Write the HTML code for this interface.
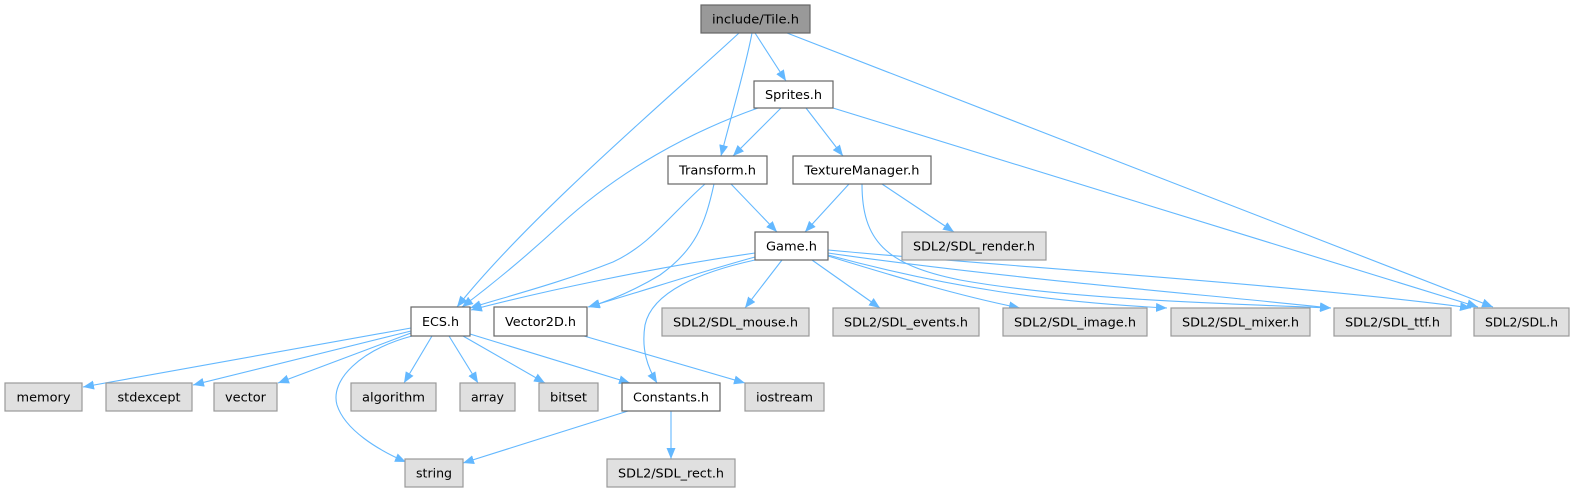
<!DOCTYPE html>
<html>
<head>
<meta charset="utf-8">
<style>
html,body{margin:0;padding:0;background:#fff;}
svg{display:block;}
text{font-family:"DejaVu Sans","Liberation Sans",sans-serif;font-size:12.5px;fill:#000;}
.e{fill:none;stroke:#63b8ff;stroke-width:1.1;}
.w{fill:#fff;stroke:#666;stroke-width:1.2;}
.g{fill:#e0e0e0;stroke:#999;stroke-width:1.2;}
.t{fill:#999;stroke:#666;stroke-width:1.2;}
</style>
</head>
<body>
<svg width="1575" height="492" viewBox="0 0 1575 492" xmlns="http://www.w3.org/2000/svg">
<defs>
<marker id="a" markerWidth="11" markerHeight="9" refX="11" refY="4.5" orient="auto" markerUnits="userSpaceOnUse">
<path d="M0,0 L11,4.5 L0,9 z" fill="#63b8ff"/>
</marker>
</defs>

<!-- edges -->
<g class="e" marker-end="url(#a)">
<!-- Tile -->
<path d="M739,33 C680,88 530,215 457,307"/>
<path d="M752,33 C745,70 730,120 721,156"/>
<path d="M755,33 L786,81"/>
<path d="M787,33 L1493,307"/>
<!-- Sprites -->
<path d="M758,108 C690,132 620,170 560,225 C520,262 482,292 462,307"/>
<path d="M781,108 L733,156"/>
<path d="M806,108 L843,156"/>
<path d="M833,108 L1478,307"/>
<!-- Transform -->
<path d="M705,184 C670,215 650,245 613,262 C560,283 505,297 470,308"/>
<path d="M714,184 C705,225 695,250 660,275 C635,290 612,300 589,307"/>
<path d="M731,184 L777,232"/>
<!-- TextureManager -->
<path d="M849,184 L805,232"/>
<path d="M882,184 L954,232"/>
<path d="M862,184 C862,240 885,265 960,280 C1060,298 1200,303 1331,308"/>
<!-- Game -->
<path d="M755,253 C650,268 540,292 471,310"/>
<path d="M755,257 C700,272 640,292 588,307"/>
<path d="M755,260 C700,272 652,292 645,325 C641,350 648,368 657,383"/>
<path d="M782,260 L745,308"/>
<path d="M812,260 L880,308"/>
<path d="M828,256 C900,278 960,296 1020,308"/>
<path d="M828,255 C950,288 1050,302 1167,308"/>
<path d="M828,253 C1000,278 1200,294 1331,308"/>
<path d="M828,250 C1000,266 1300,285 1471,308"/>
<!-- ECS -->
<path d="M411,328 L83,387"/>
<path d="M411,331 L193,385"/>
<path d="M411,333 L278,383"/>
<path d="M412,336 C360,350 330,380 337,405 C345,430 378,450 406,462"/>
<path d="M432,336 L404,383"/>
<path d="M449,336 L478,383"/>
<path d="M463,336 L545,383"/>
<path d="M470,334 L630,383"/>
<!-- Vector2D -->
<path d="M584,336 L745,383"/>
<!-- Constants -->
<path d="M628,411 L463,463"/>
<path d="M671,411 L671,459"/>
</g>

<!-- nodes -->
<rect class="t" x="701" y="5" width="109" height="28"/>
<text x="755.5" y="23.5" text-anchor="middle" textLength="87" lengthAdjust="spacingAndGlyphs">include/Tile.h</text>

<rect class="w" x="754" y="81" width="79" height="27"/>
<text x="793.5" y="99" text-anchor="middle" textLength="57" lengthAdjust="spacingAndGlyphs">Sprites.h</text>

<rect class="w" x="668" y="156" width="99" height="28"/>
<text x="717.5" y="174.5" text-anchor="middle" textLength="77" lengthAdjust="spacingAndGlyphs">Transform.h</text>

<rect class="w" x="793" y="156" width="138" height="28"/>
<text x="862" y="174.5" text-anchor="middle" textLength="115" lengthAdjust="spacingAndGlyphs">TextureManager.h</text>

<rect class="w" x="755" y="232" width="73" height="28"/>
<text x="791.5" y="250.5" text-anchor="middle" textLength="51" lengthAdjust="spacingAndGlyphs">Game.h</text>

<rect class="g" x="902" y="232" width="144" height="28"/>
<text x="974" y="250.5" text-anchor="middle" textLength="122" lengthAdjust="spacingAndGlyphs">SDL2/SDL_render.h</text>

<rect class="w" x="411" y="307" width="59" height="29"/>
<text x="440.5" y="326" text-anchor="middle" textLength="37" lengthAdjust="spacingAndGlyphs">ECS.h</text>

<rect class="w" x="494" y="307" width="93" height="29"/>
<text x="540.5" y="326" text-anchor="middle" textLength="71" lengthAdjust="spacingAndGlyphs">Vector2D.h</text>

<rect class="g" x="662" y="308" width="147" height="28"/>
<text x="735.5" y="326.5" text-anchor="middle" textLength="125" lengthAdjust="spacingAndGlyphs">SDL2/SDL_mouse.h</text>

<rect class="g" x="833" y="308" width="146" height="28"/>
<text x="906" y="326.5" text-anchor="middle" textLength="124" lengthAdjust="spacingAndGlyphs">SDL2/SDL_events.h</text>

<rect class="g" x="1003" y="308" width="144" height="28"/>
<text x="1075" y="326.5" text-anchor="middle" textLength="122" lengthAdjust="spacingAndGlyphs">SDL2/SDL_image.h</text>

<rect class="g" x="1171" y="308" width="139" height="28"/>
<text x="1240.5" y="326.5" text-anchor="middle" textLength="117" lengthAdjust="spacingAndGlyphs">SDL2/SDL_mixer.h</text>

<rect class="g" x="1334" y="308" width="117" height="28"/>
<text x="1392.5" y="326.5" text-anchor="middle" textLength="95" lengthAdjust="spacingAndGlyphs">SDL2/SDL_ttf.h</text>

<rect class="g" x="1474" y="308" width="95" height="28"/>
<text x="1521.5" y="326.5" text-anchor="middle" textLength="73" lengthAdjust="spacingAndGlyphs">SDL2/SDL.h</text>

<rect class="g" x="5" y="383" width="77" height="28"/>
<text x="43.5" y="401.5" text-anchor="middle" textLength="54" lengthAdjust="spacingAndGlyphs">memory</text>

<rect class="g" x="106" y="383" width="86" height="28"/>
<text x="149" y="401.5" text-anchor="middle" textLength="63" lengthAdjust="spacingAndGlyphs">stdexcept</text>

<rect class="g" x="214" y="383" width="63" height="28"/>
<text x="245.5" y="401.5" text-anchor="middle" textLength="41" lengthAdjust="spacingAndGlyphs">vector</text>

<rect class="g" x="351" y="383" width="85" height="28"/>
<text x="393.5" y="401.5" text-anchor="middle" textLength="63" lengthAdjust="spacingAndGlyphs">algorithm</text>

<rect class="g" x="460" y="383" width="55" height="28"/>
<text x="487.5" y="401.5" text-anchor="middle" textLength="33" lengthAdjust="spacingAndGlyphs">array</text>

<rect class="g" x="539" y="383" width="59" height="28"/>
<text x="568.5" y="401.5" text-anchor="middle" textLength="37" lengthAdjust="spacingAndGlyphs">bitset</text>

<rect class="w" x="622" y="383" width="98" height="28"/>
<text x="671" y="401.5" text-anchor="middle" textLength="76" lengthAdjust="spacingAndGlyphs">Constants.h</text>

<rect class="g" x="745" y="383" width="79" height="28"/>
<text x="784.5" y="401.5" text-anchor="middle" textLength="57" lengthAdjust="spacingAndGlyphs">iostream</text>

<rect class="g" x="405" y="459" width="58" height="28"/>
<text x="434" y="477.5" text-anchor="middle" textLength="36" lengthAdjust="spacingAndGlyphs">string</text>

<rect class="g" x="607" y="459" width="128" height="28"/>
<text x="671" y="477.5" text-anchor="middle" textLength="106" lengthAdjust="spacingAndGlyphs">SDL2/SDL_rect.h</text>
</svg>
</body>
</html>
